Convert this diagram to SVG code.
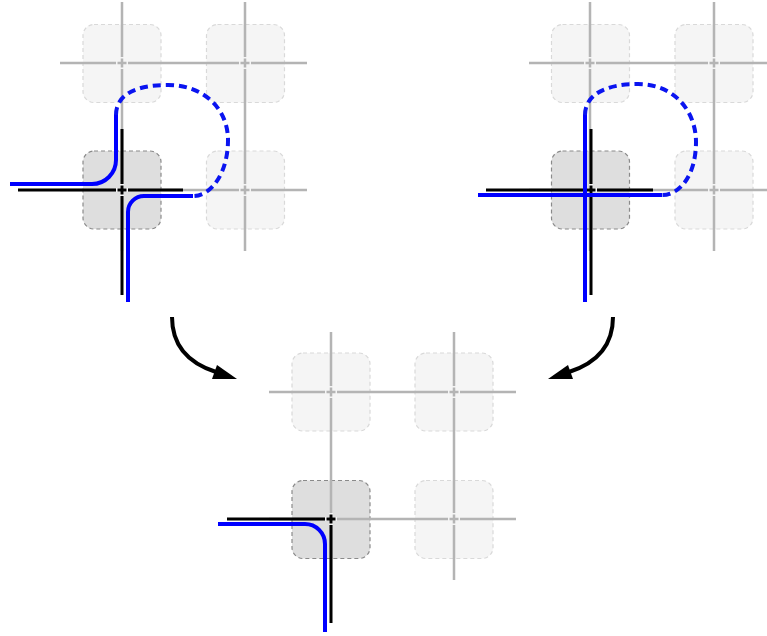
<svg xmlns="http://www.w3.org/2000/svg" width="767" height="636" viewBox="0 0 767 636">
<style>
.tile{fill:#f5f5f5;stroke:#d9d9d9;stroke-width:1.2;stroke-dasharray:4 3}
.tile.on{fill:#dedede;stroke:#8a8a8a}
.g{stroke:#b4b4b4;stroke-width:2.5;fill:none}
.gw{stroke:#f4f4f4;stroke-width:4;fill:none}
.k{stroke:#000;stroke-width:3;fill:none}
.b{stroke:#0000ff;stroke-width:4;fill:none}
.d{stroke:#0a14f0;stroke-width:4;fill:none;stroke-dasharray:8 5}
.arr{stroke:#000;stroke-width:4;fill:none}
</style>
<defs>
<rect id="t" x="-39" y="-39" width="78" height="78" rx="11"/>
<path id="gp" d="M-4.5,0H4.5M0,-4.5V4.5"/>
<path id="wp" d="M-6,0H6M0,-6V6"/>
</defs>

<!-- LEFT PANEL -->
<g id="left-panel">
<g id="L-n00"><use href="#t" class="tile" x="122" y="63.5"/></g>
<g id="L-n10"><use href="#t" class="tile" x="245.5" y="63.5"/></g>
<g id="L-n01"><use href="#t" class="tile on" x="122" y="190"/></g>
<g id="L-n11"><use href="#t" class="tile" x="245.5" y="190"/></g>
<g id="L-grid">
<path class="g" d="M60,63H307M60,190H307M122,2V251M245,2V251"/>
<use href="#wp" class="gw" x="122" y="63"/><use href="#gp" class="g" x="122" y="63"/>
<use href="#wp" class="gw" x="245" y="63"/><use href="#gp" class="g" x="245" y="63"/>
<use href="#wp" class="gw" x="245" y="190"/><use href="#gp" class="g" x="245" y="190"/>
</g>
<g id="L-black">
<path class="k" d="M18,190H183M122,129V295"/>
<use href="#wp" class="gw" x="122" y="190"/><use href="#gp" class="k" x="122" y="190"/>
</g>
<g id="L-blue">
<path class="b" d="M10,184H92A24,24 0 0 0 116,160V115"/>
<path class="b" d="M193,196H144A16,16 0 0 0 128,212V302"/>
<path class="d" d="M116,115C116,95 135,85 168,85C205,85 228,110 228,140C228,172 212,196 193,196"/>
</g>
</g>

<!-- RIGHT PANEL -->
<g id="right-panel">
<g id="R-n00"><use href="#t" class="tile" x="590.5" y="63.5"/></g>
<g id="R-n10"><use href="#t" class="tile" x="714" y="63.5"/></g>
<g id="R-n01"><use href="#t" class="tile on" x="590.5" y="190"/></g>
<g id="R-n11"><use href="#t" class="tile" x="714" y="190"/></g>
<g id="R-grid">
<path class="g" d="M529,63H767M529,190H767M590,2V251M714,2V251"/>
<use href="#wp" class="gw" x="590" y="63"/><use href="#gp" class="g" x="590" y="63"/>
<use href="#wp" class="gw" x="714" y="63"/><use href="#gp" class="g" x="714" y="63"/>
<use href="#wp" class="gw" x="714" y="190"/><use href="#gp" class="g" x="714" y="190"/>
</g>
<g id="R-black">
<path class="k" d="M486,190H653M591,129V295"/>
<use href="#wp" class="gw" x="591" y="190"/><use href="#gp" class="k" x="591" y="190"/>
</g>
<g id="R-blue">
<path class="b" d="M478,195H662M585,115V302"/>
<path class="d" d="M585,115C585,95 605,84 638,84C675,84 696,112 696,142C696,175 680,195 662,195"/>
</g>
</g>

<!-- BOTTOM PANEL -->
<g id="bottom-panel">
<g id="B-n00"><use href="#t" class="tile" x="331" y="392"/></g>
<g id="B-n10"><use href="#t" class="tile" x="454" y="392"/></g>
<g id="B-n01"><use href="#t" class="tile on" x="331" y="519.5"/></g>
<g id="B-n11"><use href="#t" class="tile" x="454" y="519.5"/></g>
<g id="B-grid">
<path class="g" d="M269,392H516M269,519H516M331,332V580M454,332V580"/>
<use href="#wp" class="gw" x="331" y="392"/><use href="#gp" class="g" x="331" y="392"/>
<use href="#wp" class="gw" x="454" y="392"/><use href="#gp" class="g" x="454" y="392"/>
<use href="#wp" class="gw" x="454" y="519"/><use href="#gp" class="g" x="454" y="519"/>
</g>
<g id="B-black">
<path class="k" d="M227,519H331V623"/>
<use href="#wp" class="gw" x="331" y="519"/><use href="#gp" class="k" x="331" y="519"/>
</g>
<g id="B-blue">
<path class="b" d="M218,524H305A20,20 0 0 1 325,544V632"/>
</g>
</g>

<!-- CONNECTORS -->
<g id="connectors">
<path class="arr" d="M172,317C172,345 188,363 216,372"/>
<polygon points="237,379 217,365 212,379" fill="#000"/>
<path class="arr" d="M613,317C613,345 597,363 569,372"/>
<polygon points="548,379 568,365 573,379" fill="#000"/>
</g>
</svg>
